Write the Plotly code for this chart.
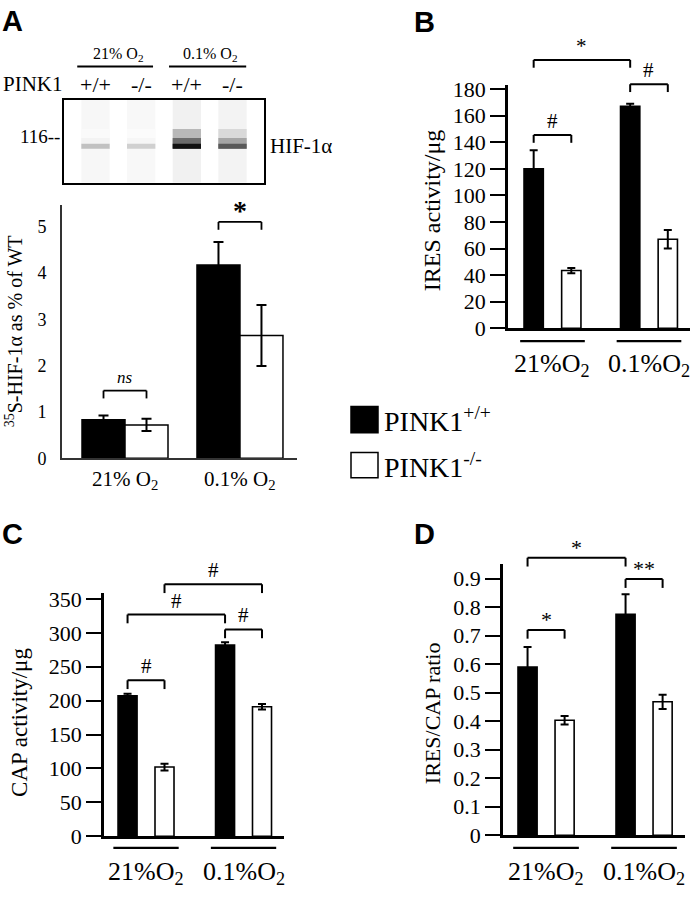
import plotly.graph_objects as go

W, H = 695, 900
SERIF = "Liberation Serif, Times New Roman, serif"
SANS = "Liberation Sans, Arial, sans-serif"

# ---------------- data ----------------
group_idx = [0, 1]
group_labels_a = ["21% O<sub>2</sub>", "0.1% O<sub>2</sub>"]
group_labels = ["21%O<sub>2</sub>", "0.1%O<sub>2</sub>"]

a_wt = [0.83, 4.17]
a_wt_err = [0.09, 0.50]
a_ko = [0.72, 2.65]
a_ko_err = [0.13, 0.66]

b_wt = [120, 167]
b_wt_err = [14, 2]
b_ko = [43.5, 67]
b_ko_err = [2, 7]

c_wt = [207, 282]
c_wt_err = [3, 4]
c_ko = [102, 191]
c_ko_err = [5, 4]

d_wt = [0.59, 0.775]
d_wt_err = [0.07, 0.07]
d_ko = [0.403, 0.468]
d_ko_err = [0.015, 0.025]

a_ticks = [0, 1, 2, 3, 4, 5]
b_ticks = [0, 20, 40, 60, 80, 100, 120, 140, 160, 180]
c_ticks = [0, 50, 100, 150, 200, 250, 300, 350]
d_ticks = [0, 0.1, 0.2, 0.3, 0.4, 0.5, 0.6, 0.7, 0.8, 0.9]
d_ticktext = ["0", "0.1", "0.2", "0.3", "0.4", "0.5", "0.6", "0.7", "0.8", "0.9"]

# blot (lane intensities, 0..1)
lanes = [1, 2, 3, 4]
lane_geno = ["+/+", "-/-", "+/+", "-/-"]
blot_smear = [0.035, 0.03, 0.06, 0.05]
blot_diffuse = [0.02, 0.015, 0.30, 0.16]
blot_mid = [0.05, 0.04, 0.62, 0.38]
blot_core = [0.26, 0.20, 1.00, 0.70]

# significance: (series1, group1, series2, group2, top value, label)
sig_a = [("wt", 0, "ko", 0, 1.46, "ns"), ("wt", 1, "ko", 1, 5.10, "*")]
sig_b = [("wt", 0, "ko", 0, 145.5, "#"), ("wt", 0, "wt", 1, 202, "*"), ("wt", 1, "ko", 1, 183.7, "#")]
sig_c = [("wt", 0, "ko", 0, 230, "#"), ("wt", 0, "wt", 1, 327, "#"),
         ("wt", 1, "ko", 1, 305, "#"), ("ko", 0, "ko", 1, 371.6, "#")]
sig_d = [("wt", 0, "ko", 0, 0.72, "*"), ("wt", 0, "wt", 1, 0.973, "*"), ("wt", 1, "ko", 1, 0.898, "**")]

# ---------------- layout geometry ----------------
P = {
    "A": dict(xa="x", ya="y", xpx=(62, 297), ypx=(202, 461), xr=(-0.548, 1.496), yr=(0, 5.46),
              w=0.374, off=(-0.374, 0.0)),
    "B": dict(xa="x2", ya="y2", xpx=(508, 690), ypx=(79, 328), xr=(-0.461, 1.425), yr=(0, 183),
              w=0.2, off=(-0.295, 0.095)),
    "C": dict(xa="x3", ya="y3", xpx=(104, 284), ypx=(599, 848), xr=(-0.431, 1.415), yr=(0, 358.7),
              w=0.195, off=(-0.287, 0.092)),
    "D": dict(xa="x4", ya="y4", xpx=(503, 685), ypx=(569, 847), xr=(-0.439, 1.418), yr=(0, 0.952),
              w=0.195, off=(-0.286, 0.092)),
    "blot": dict(xa="x5", ya="y5", xpx=(64, 264), ypx=(94, 179), xr=(0.31, 4.69), yr=(0, 85)),
}


def xdom(p, x):
    r = P[p]["xr"]
    return (x - r[0]) / (r[1] - r[0])


def ydom(p, y):
    r = P[p]["yr"]
    return (y - r[0]) / (r[1] - r[0])


def px_to_ydom(p, pix):
    return pix / (P[p]["ypx"][1] - P[p]["ypx"][0])


def gray(i):
    g = int(round(255 * (1 - 0.93 * i)))
    return f"rgb({g},{g},{g})"


fig = go.Figure()
shapes = []
annots = []


def add_bars(p, wt, wterr, ko, koerr, lw, capw, thick):
    g = P[p]
    for vals, errs, off, col in [(wt, wterr, g["off"][0], "black"), (ko, koerr, g["off"][1], "white")]:
        fig.add_trace(go.Bar(
            x=group_idx, y=vals, width=g["w"], offset=off, xaxis=g["xa"], yaxis=g["ya"],
            marker=dict(color=col, line=dict(color="black", width=lw)),
            error_y=dict(type="data", array=errs, color="black", thickness=thick, width=capw),
            showlegend=False, hoverinfo="skip"))


def center(p, series, grp):
    g = P[p]
    off = g["off"][0] if series == "wt" else g["off"][1]
    return grp + off + g["w"] / 2


def add_sig(p, sigs, leg_px, lw, fsize, fstyle="normal", fweight="normal", tshift=0):
    g = P[p]
    xd = g["xa"] + " domain"
    yd = g["ya"] + " domain"
    for s1, g1, s2, g2, top, lab in sigs:
        x1 = xdom(p, center(p, s1, g1))
        x2 = xdom(p, center(p, s2, g2))
        yt = ydom(p, top)
        yb = yt - px_to_ydom(p, leg_px)
        line = dict(color="black", width=lw)
        shapes.append(dict(type="line", xref=xd, yref=yd, x0=x1, x1=x2, y0=yt, y1=yt, line=line))
        shapes.append(dict(type="line", xref=xd, yref=yd, x0=x1, x1=x1, y0=yt, y1=yb, line=line))
        shapes.append(dict(type="line", xref=xd, yref=yd, x0=x2, x1=x2, y0=yt, y1=yb, line=line))
        annots.append(dict(xref=xd, yref=yd, x=(x1 + x2) / 2, y=yt, yanchor="bottom", xanchor="center",
                           text=lab, showarrow=False, yshift=tshift,
                           font=dict(family=SERIF, size=fsize, style=fstyle, weight=fweight)))


# ----- panel A bar chart -----
add_bars("A", a_wt, a_wt_err, a_ko, a_ko_err, 1.5, 5, 2)
add_sig("A", sig_a[:1], 8, 1.8, 17, fstyle="italic", tshift=2)
add_sig("A", sig_a[1:], 8, 1.8, 28, fweight="bold", tshift=-6)

# ----- panels B, C, D -----
add_bars("B", b_wt, b_wt_err, b_ko, b_ko_err, 1.6, 4, 2)
add_bars("C", c_wt, c_wt_err, c_ko, c_ko_err, 1.6, 4, 2)
add_bars("D", d_wt, d_wt_err, d_ko, d_ko_err, 1.6, 4, 2)
add_sig("B", sig_b, 8, 2, 21)
add_sig("C", sig_c, 9, 2, 21)
add_sig("D", sig_d, 9, 2, 22, tshift=-4)

# ----- blot -----
for inten, base, height in [(blot_smear, 0, 85), (blot_diffuse, 35, 20), (blot_mid, 35, 11), (blot_core, 35, 5)]:
    fig.add_trace(go.Bar(
        x=lanes, y=[height] * 4, base=[base] * 4, width=0.62, xaxis="x5", yaxis="y5",
        marker=dict(color=[gray(v) for v in inten], line=dict(width=0)),
        showlegend=False, hoverinfo="skip"))

# ---------------- axes ----------------
def dom_x(p):
    return [P[p]["xpx"][0] / W, P[p]["xpx"][1] / W]


def dom_y(p):
    return [1 - P[p]["ypx"][1] / H, 1 - P[p]["ypx"][0] / H]


layout_axes = {}
names = {"A": ("xaxis", "yaxis"), "B": ("xaxis2", "yaxis2"), "C": ("xaxis3", "yaxis3"),
         "D": ("xaxis4", "yaxis4"), "blot": ("xaxis5", "yaxis5")}
for p, (xn, yn) in names.items():
    g = P[p]
    layout_axes[xn] = dict(domain=dom_x(p), range=list(g["xr"]), anchor=g["ya"],
                           showgrid=False, zeroline=False, showticklabels=False, ticks="",
                           showline=True, linecolor="black", linewidth=2.5, fixedrange=True)
    layout_axes[yn] = dict(domain=dom_y(p), range=list(g["yr"]), anchor=g["xa"],
                           showgrid=False, zeroline=False, showline=True, linecolor="black",
                           linewidth=2.5, fixedrange=True)

# panel A y axis
layout_axes["yaxis"].update(tickvals=a_ticks, ticks="", ticklabelstandoff=10,
                            tickfont=dict(family=SERIF, size=18, color="black"),
                            linecolor="#333", linewidth=1.6)
layout_axes["xaxis"].update(linecolor="#333", linewidth=1.6)
for yn, tv, tt in [("yaxis2", b_ticks, None), ("yaxis3", c_ticks, None), ("yaxis4", d_ticks, d_ticktext)]:
    layout_axes[yn].update(tickvals=tv, ticks="outside", ticklen=15, tickwidth=2.2, tickcolor="black",
                           tickfont=dict(family=SERIF, size=22, color="black"))
    if tt:
        layout_axes[yn]["ticktext"] = tt
# blot frame
layout_axes["xaxis5"].update(mirror=True, linewidth=2)
layout_axes["yaxis5"].update(mirror=True, linewidth=2, showticklabels=False, ticks="")

# x labels + underlines
for gi in group_idx:
    annots.append(dict(xref="x", yref="paper", x=gi, y=1 - 483 / H, text=group_labels_a[gi],
                       showarrow=False, yanchor="middle", font=dict(family=SERIF, size=21)))
for p, ylab, yline in [("B", 366, 341), ("C", 886, 860), ("D", 886, 860)]:
    g = P[p]
    for gi in group_idx:
        annots.append(dict(xref=g["xa"], yref="paper", x=gi, y=1 - ylab / H, text=group_labels[gi],
                           showarrow=False, yanchor="middle", font=dict(family=SERIF, size=26)))
        shapes.append(dict(type="line", xref=g["xa"] + " domain", yref="paper",
                           x0=xdom(p, gi - 0.335), x1=xdom(p, gi + 0.335),
                           y0=1 - yline / H, y1=1 - yline / H, line=dict(color="black", width=2.2)))

# y titles
for x, y, txt, fs in [(14, 331, "<sup>35</sup>S-HIF-1α as % of WT", 20),
                      (432, 207, "IRES activity/μg", 24),
                      (20, 732, "CAP activity/μg", 23),
                      (432, 722, "IRES/CAP ratio", 22)]:
    annots.append(dict(xref="paper", yref="paper", x=x / W, y=1 - y / H, text=txt, textangle=-90,
                       showarrow=False, xanchor="center", yanchor="middle",
                       font=dict(family=SERIF, size=fs)))

# panel letters
for x, y, t in [(0, 13, "A"), (412, 14, "B"), (0, 539, "C"), (412, 539, "D")]:
    annots.append(dict(xref="paper", yref="paper", x=x / W, y=1 - y / H, text=t, showarrow=False,
                       xanchor="left", yanchor="middle",
                       font=dict(family=SANS, size=29, weight="bold")))

# blot header
for lx, txt in [(1.5, "21% O<sub>2</sub>"), (3.5, "0.1% O<sub>2</sub>")]:
    annots.append(dict(xref="x5", yref="paper", x=lx, y=1 - 48 / H, text=txt, showarrow=False,
                       yanchor="middle", font=dict(family=SERIF, size=16)))
for x0, x1 in [(0.6, 2.26), (2.61, 4.3)]:
    shapes.append(dict(type="line", xref="x5 domain", yref="paper", x0=xdom("blot", x0),
                       x1=xdom("blot", x1), y0=1 - 60 / H, y1=1 - 60 / H,
                       line=dict(color="black", width=2)))
for lx, gt in zip(lanes, lane_geno):
    annots.append(dict(xref="x5", yref="paper", x=lx, y=1 - 78 / H, text=gt, showarrow=False,
                       yanchor="middle", font=dict(family=SERIF, size=22)))
annots.append(dict(xref="paper", yref="paper", x=1 / W, y=1 - 78 / H, text="PINK1", showarrow=False,
                   xanchor="left", yanchor="middle", font=dict(family=SERIF, size=21)))
annots.append(dict(xref="paper", yref="paper", x=62 / W, y=1 - 132 / H, text="116--", showarrow=False,
                   xanchor="right", yanchor="middle", font=dict(family=SERIF, size=19)))
annots.append(dict(xref="paper", yref="paper", x=268 / W, y=1 - 141 / H, text="HIF-1α", showarrow=False,
                   xanchor="left", yanchor="middle", font=dict(family=SERIF, size=21)))

# legend (manual)
for (y0, y1), col, txt in [((408, 435), "black", "PINK1<sup>+/+</sup>"),
                           ((455, 481), "white", "PINK1<sup>-/-</sup>")]:
    shapes.append(dict(type="rect", xref="paper", yref="paper", x0=351 / W, x1=378 / W,
                       y0=1 - y1 / H, y1=1 - y0 / H, fillcolor=col, line=dict(color="black", width=1.5)))
    annots.append(dict(xref="paper", yref="paper", x=382 / W, y=1 - (y0 + y1) / 2 / H, text=txt,
                       showarrow=False, xanchor="left", yanchor="middle", font=dict(family=SERIF, size=28)))

fig.update_layout(
    width=W, height=H, margin=dict(l=0, r=0, t=0, b=0),
    paper_bgcolor="white", plot_bgcolor="white",
    barmode="overlay", showlegend=False,
    font=dict(family=SERIF, color="black"),
    shapes=shapes, annotations=annots, **layout_axes)

fig.write_html("out.html", config={"displayModeBar": False},
               post_script="document.body.style.margin='0';document.body.style.overflow='hidden';")
